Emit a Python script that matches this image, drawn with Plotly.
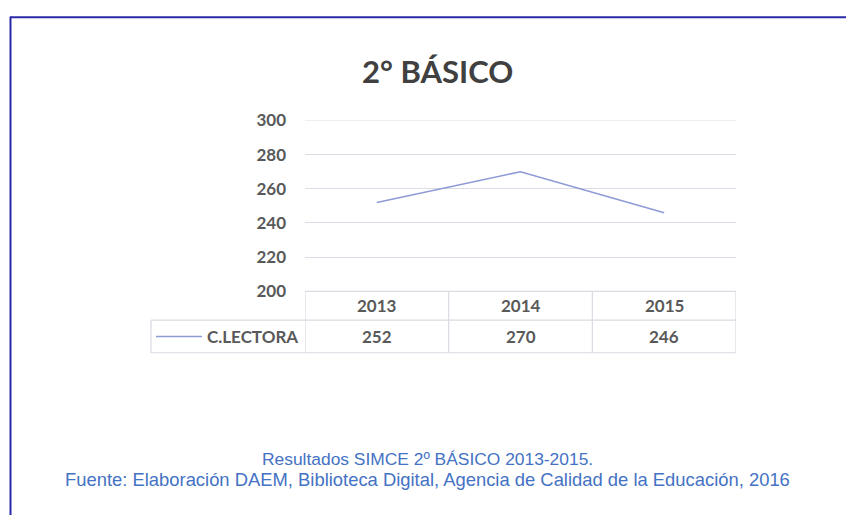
import plotly.graph_objects as go

years = ["2013", "2014", "2015"]
lectora = [252, 270, 246]
series_name = "C.LECTORA"
title_text = "2° BÁSICO"
caption_lines = [
    "Resultados SIMCE 2º BÁSICO 2013-2015.",
    "Fuente: Elaboración DAEM, Biblioteca Digital, Agencia de Calidad de la Educación, 2016",
]
caption_sizes = [17.4, 18.4]
y_ticks = [200, 220, 240, 260, 280, 300]

W, H = 846, 525
def px(x):
    return x / W
def py(y):
    return (H - y) / H

LINE_COLOR = "#8e9ad6"
GRID = "#dcdde6"
TXT = "#595959"
FONT = "Lato"

fig = go.Figure()
fig.add_trace(go.Scatter(x=years, y=lectora, mode="lines", name=series_name,
                         line=dict(color=LINE_COLOR, width=1.6), showlegend=False,
                         hoverinfo="x+y"))

x0, x1 = 305, 736
ytop, ybot = 114, 292
fig.update_layout(
    width=W, height=H,
    margin=dict(l=0, r=0, t=0, b=0),
    paper_bgcolor="white", plot_bgcolor="white",
    xaxis=dict(domain=[px(x0), px(x1)], type="category", range=[-0.5, 2.5],
               showticklabels=False, showgrid=False, zeroline=False, fixedrange=True),
    yaxis=dict(domain=[py(ybot), py(ytop)], range=[200, 300], tickvals=y_ticks,
               showgrid=True, gridcolor=GRID, gridwidth=1, zeroline=False,
               ticklabelstandoff=18,
               tickfont=dict(family=FONT, size=17, color=TXT, weight="bold"),
               fixedrange=True),
    font=dict(family=FONT),
)

shapes = []
border = "#2a2aa8"
shapes.append(dict(type="line", xref="paper", yref="paper", x0=px(10), x1=1, y0=py(6.5), y1=py(6.5),
                   line=dict(color=border, width=2)))
shapes.append(dict(type="line", xref="paper", yref="paper", x0=px(10.5), x1=px(10.5), y0=py(6), y1=0,
                   line=dict(color=border, width=2)))
shapes.append(dict(type="line", xref="paper", yref="y", x0=px(x0), x1=px(x1), y0=y_ticks[-1], y1=y_ticks[-1],
                   line=dict(color=GRID, width=1)))

r0, r1, r2 = 292, 322, 356
lx = 151
tcol = "#d9dbe3"
def hline(xa, xb, y):
    shapes.append(dict(type="line", xref="paper", yref="paper", x0=px(xa), x1=px(xb), y0=py(y), y1=py(y),
                       line=dict(color=tcol, width=1.2)))
def vline(x, ya, yb, xref="paper"):
    shapes.append(dict(type="line", xref=xref, yref="paper", x0=x, x1=x, y0=py(ya), y1=py(yb),
                       line=dict(color=tcol, width=1.2)))
hline(x0, x1, r0)
hline(lx, x1, r1)
hline(lx, x1, r2)
vline(px(lx), r1, r2)
for b in [-0.5, 0.5, 1.5, 2.5]:
    vline(b, r0, r2, xref="x")
shapes.append(dict(type="line", xref="paper", yref="paper", x0=px(156), x1=px(202), y0=py(339), y1=py(339),
                   line=dict(color=LINE_COLOR, width=1.6)))

ann = []
for i, (yr, v) in enumerate(zip(years, lectora)):
    ann.append(dict(x=i, xref="x", y=py((r0 + r1) / 2), yref="paper", text=yr, showarrow=False,
                    font=dict(family=FONT, size=17, color=TXT, weight="bold"), yanchor="middle"))
    ann.append(dict(x=i, xref="x", y=py((r1 + r2) / 2), yref="paper", text=str(v), showarrow=False,
                    font=dict(family=FONT, size=17, color=TXT, weight="bold"), yanchor="middle"))
ann.append(dict(x=px(300), xref="paper", y=py((r1 + r2) / 2), yref="paper", text=series_name,
                showarrow=False, xanchor="right", yanchor="middle",
                font=dict(family=FONT, size=17, color=TXT, weight="bold")))
ann.append(dict(x=px(437), xref="paper", y=py(63), yref="paper", text=title_text, showarrow=False,
                xanchor="center", yanchor="middle",
                font=dict(family=FONT, size=31, color="#404040", weight="bold")))
for i, (t, s) in enumerate(zip(caption_lines, caption_sizes)):
    ann.append(dict(x=px(428), xref="paper", y=py(467 + 21.5 * i), yref="paper", text=t, showarrow=False,
                    xanchor="center", yanchor="middle",
                    font=dict(family="Liberation Sans", size=s, color="#4472c4")))

fig.update_layout(shapes=shapes, annotations=ann)
post = (
    "document.body.style.margin='0';"
    "document.documentElement.style.overflow='hidden';"
    "var d=document.getElementsByClassName('plotly-graph-div')[0];"
    "d.style.position='fixed';d.style.top='0px';d.style.left='0px';"
)
fig.write_html("out.html", post_script=post, config={"displayModeBar": False})
